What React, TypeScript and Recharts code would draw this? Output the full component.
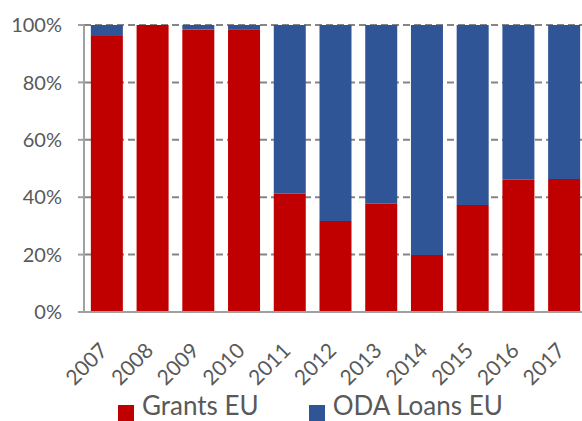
import React from 'react';
import { BarChart, Bar, XAxis, YAxis, CartesianGrid, Legend } from 'recharts';

const years = ['2007', '2008', '2009', '2010', '2011', '2012', '2013', '2014', '2015', '2016', '2017'];
const grantsEU = [96.2, 100, 98.4, 98.5, 41.2, 31.7, 37.7, 19.9, 37.3, 46.1, 46.3];
const odaLoansEU = [3.8, 0, 1.6, 1.5, 58.8, 68.3, 62.3, 80.1, 62.7, 53.9, 53.7];
const yTicks = [0, 20, 40, 60, 80, 100];

const RED = '#C00000';
const BLUE = '#2F5597';
const TEXT = '#595959';
const FONT = 'Lato, "Open Sans", sans-serif';

const data = years.map((year, i) => ({ year, grants: grantsEU[i], loans: odaLoansEU[i] }));

// rotated year labels, like excel's -45deg category axis
const YearTick = (props: any) => {
    const { x, y, payload } = props;
    return (
        <text
            transform={`translate(${x + 2},${y + 32}) rotate(-45)`}
            textAnchor="end"
            fill={TEXT}
            fontSize={21}
            fontFamily={FONT}
        >
            {payload.value}
        </text>
    );
};

const LegendBox = () => {
    const items = [
        { label: 'Grants EU', color: RED },
        { label: 'ODA Loans EU', color: BLUE },
    ];
    return (
        <div style={{ height: 32, display: 'flex', alignItems: 'flex-end', paddingLeft: 118, fontFamily: FONT }}>
            {items.map(item => (
                <div key={item.label} style={{ display: 'flex', alignItems: 'flex-end', marginRight: 50 }}>
                    <span style={{ display: 'inline-block', width: 16, height: 16, background: item.color, marginRight: 8 }} />
                    <span style={{ fontSize: 26, lineHeight: 'normal', color: TEXT }}>{item.label}</span>
                </div>
            ))}
        </div>
    );
};

export default function App() {
    return (
        <div style={{ position: 'absolute', left: 0, top: 0, width: 582, height: 421, overflow: 'hidden', background: '#fff' }}>
            <BarChart
                width={587}
                height={421}
                data={data}
                margin={{ top: 25, right: 0, left: 0, bottom: 0 }}
                barCategoryGap="15%"
            >
                <CartesianGrid vertical={false} stroke="#858585" strokeWidth={2} strokeDasharray="7 4" />
                <XAxis
                    dataKey="year"
                    height={77}
                    interval={0}
                    tick={<YearTick />}
                    tickLine={false}
                    axisLine={{ stroke: '#A0A0A0', strokeWidth: 2 }}
                />
                <YAxis
                    width={84}
                    domain={[0, 100]}
                    ticks={yTicks}
                    tickFormatter={(v: number) => `${v}%`}
                    tickSize={6}
                    tickMargin={16}
                    tickLine={{ stroke: '#A0A0A0', strokeWidth: 2 }}
                    axisLine={{ stroke: '#A0A0A0', strokeWidth: 2 }}
                    tick={{ fill: TEXT, fontSize: 20, fontFamily: FONT }}
                />
                <Legend verticalAlign="bottom" content={<LegendBox />} />
                <Bar dataKey="grants" stackId="a" fill={RED} isAnimationActive={false} />
                <Bar dataKey="loans" stackId="a" fill={BLUE} isAnimationActive={false} />
            </BarChart>
        </div>
    );
}
